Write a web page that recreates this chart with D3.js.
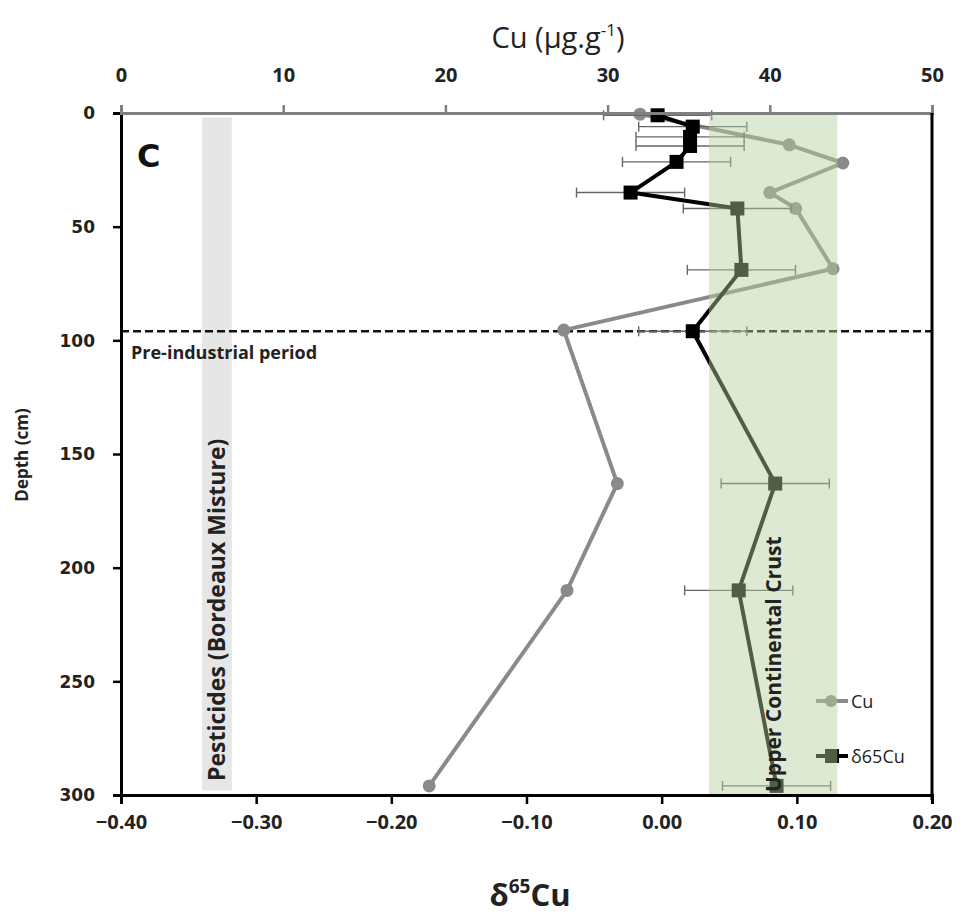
<!DOCTYPE html>
<html>
<head>
<meta charset="utf-8">
<script src="https://cdn.jsdelivr.net/npm/d3@7/dist/d3.min.js"></script>
<style>
  html, body { margin: 0; padding: 0; background: #fff; }
  svg { display: block; }
</style>
</head>
<body>
<svg id="chart" width="963" height="920"></svg>
<script>
// Depth profile: Cu concentration (top axis) and δ65Cu (bottom axis)
const deltaDepth = [1, 6, 10.5, 14.5, 21.5, 35, 42, 69, 96, 163, 210, 296];
const deltaValues = [-0.003, 0.023, 0.021, 0.021, 0.011, -0.023, 0.056, 0.059, 0.023, 0.084, 0.057, 0.085];
const deltaErr = [0.04, 0.04, 0.04, 0.04, 0.04, 0.04, 0.04, 0.04, 0.04, 0.04, 0.04, 0.04];

const cuDepth = [0.5, 14, 22, 35, 42, 68.5, 95.5, 163, 210, 296];
const cuValues = [32.0, 41.2, 44.5, 40.0, 41.6, 43.9, 27.3, 30.6, 27.5, 19.0];

const deltaTicks = [-0.40, -0.30, -0.20, -0.10, 0.00, 0.10, 0.20];
const cuTicks = [0, 10, 20, 30, 40, 50];
const depthTicks = [0, 50, 100, 150, 200, 250, 300];

const preIndustrialDepth = 96;
const pesticideRange = [-0.34, -0.318];
const crustRange = [0.035, 0.13];

(function draw() {
  const svg = d3.select("#chart");
  const mLeft = 121, mRight = 932, mTop = 113, mBottom = 795;

  const x = d3.scaleLinear().domain([-0.4, 0.2]).range([mLeft, mRight]);
  const xCu = d3.scaleLinear().domain([0, 50]).range([mLeft, mRight]);
  const y = d3.scaleLinear().domain([0, 300]).range([mTop, mBottom]);

  const tickFont = "'Open Sans', sans-serif";

  // Pesticide reference band
  svg.append("rect")
    .attr("x", x(pesticideRange[0])).attr("width", x(pesticideRange[1]) - x(pesticideRange[0]))
    .attr("y", y(2)).attr("height", y(298) - y(2))
    .attr("fill", "#e6e6e6");

  // Pre-industrial boundary
  svg.append("line")
    .attr("x1", mLeft).attr("x2", mRight)
    .attr("y1", y(preIndustrialDepth)).attr("y2", y(preIndustrialDepth))
    .attr("stroke", "#111").attr("stroke-width", 2.5).attr("stroke-dasharray", "8,4");

  // Cu profile
  const cuPts = cuValues.map((v, i) => [xCu(v), y(cuDepth[i])]);
  svg.append("path")
    .attr("d", d3.line()(cuPts))
    .attr("fill", "none").attr("stroke", "#8a8a8a").attr("stroke-width", 4)
    .attr("stroke-linejoin", "round");
  svg.append("g").selectAll("circle").data(cuPts).join("circle")
    .attr("cx", d => d[0]).attr("cy", d => d[1]).attr("r", 6.5)
    .attr("fill", "#8a8a8a");

  // δ65Cu error bars
  const eb = svg.append("g").attr("stroke", "#666").attr("stroke-width", 1.4);
  deltaValues.forEach((v, i) => {
    const cy = y(deltaDepth[i]);
    const x0 = x(v - deltaErr[i]), x1 = x(v + deltaErr[i]);
    eb.append("line").attr("x1", x0).attr("x2", x1).attr("y1", cy).attr("y2", cy);
    eb.append("line").attr("x1", x0).attr("x2", x0).attr("y1", cy - 5).attr("y2", cy + 5);
    eb.append("line").attr("x1", x1).attr("x2", x1).attr("y1", cy - 5).attr("y2", cy + 5);
  });

  // δ65Cu profile
  const dPts = deltaValues.map((v, i) => [x(v), y(deltaDepth[i])]);
  svg.append("path")
    .attr("d", d3.line()(dPts))
    .attr("fill", "none").attr("stroke", "#000").attr("stroke-width", 4)
    .attr("stroke-linejoin", "round");
  svg.append("g").selectAll("rect").data(dPts).join("rect")
    .attr("x", d => d[0] - 7).attr("y", d => d[1] - 7)
    .attr("width", 14).attr("height", 14).attr("fill", "#000");

  // Legend
  const lg = svg.append("g");
  lg.append("line").attr("x1", 816).attr("x2", 848).attr("y1", 701).attr("y2", 701)
    .attr("stroke", "#8a8a8a").attr("stroke-width", 4);
  lg.append("circle").attr("cx", 831).attr("cy", 701).attr("r", 6).attr("fill", "#8a8a8a");
  lg.append("line").attr("x1", 816).attr("x2", 848).attr("y1", 756).attr("y2", 756)
    .attr("stroke", "#000").attr("stroke-width", 4);
  lg.append("rect").attr("x", 825).attr("y", 749).attr("width", 14).attr("height", 14).attr("fill", "#000");
  lg.append("text").attr("x", 851).attr("y", 708).text("Cu")
    .attr("font-family", "'Open Sans', sans-serif").attr("font-size", 18).attr("fill", "#222");
  lg.append("text").attr("x", 851).attr("y", 763).text("δ65Cu")
    .attr("font-family", "'Open Sans', sans-serif").attr("font-size", 18).attr("fill", "#222");

  // Upper continental crust band (translucent, over the data)
  svg.append("rect")
    .attr("x", x(crustRange[0])).attr("width", x(crustRange[1]) - x(crustRange[0]))
    .attr("y", mTop + 2).attr("height", mBottom - mTop - 2)
    .attr("fill", "rgb(180,207,158)").attr("fill-opacity", 0.45);

  // Axes
  const yAxis = svg.append("g").attr("transform", `translate(${mLeft},0)`)
    .call(d3.axisLeft(y).tickValues(depthTicks).tickSize(8).tickFormat(d3.format("d")));
  yAxis.select(".domain").attr("stroke", "#000").attr("stroke-width", 3);
  yAxis.selectAll(".tick line").attr("stroke", "#000").attr("stroke-width", 2.5);
  yAxis.selectAll("text").attr("x", -26).attr("dy", "0.35em")
    .attr("font-family", "'DejaVu Sans', sans-serif").attr("font-weight", "bold")
    .attr("font-size", 17).attr("fill", "#222");

  const xAxis = svg.append("g").attr("transform", `translate(0,${mBottom})`)
    .call(d3.axisBottom(x).tickValues(deltaTicks).tickSize(9).tickFormat(d3.format(".2f")));
  xAxis.select(".domain").attr("stroke", "#000").attr("stroke-width", 3);
  xAxis.selectAll(".tick line").attr("stroke", "#000").attr("stroke-width", 2.5);
  xAxis.selectAll("text").attr("y", 20).attr("dy", "0.71em")
    .attr("font-family", tickFont).attr("font-weight", "bold")
    .attr("font-size", 20).attr("fill", "#222");

  const topAxis = svg.append("g").attr("transform", `translate(0,${mTop})`)
    .call(d3.axisTop(xCu).tickValues(cuTicks).tickSize(8).tickFormat(d3.format("d")));
  topAxis.select(".domain").attr("stroke", "#808080").attr("stroke-width", 3);
  topAxis.selectAll(".tick line").attr("stroke", "#808080").attr("stroke-width", 2.5);
  topAxis.selectAll("text").attr("y", -31)
    .attr("font-family", tickFont).attr("font-weight", "bold")
    .attr("font-size", 20).attr("fill", "#222");

  // Right frame
  svg.append("line").attr("x1", mRight).attr("x2", mRight).attr("y1", mTop).attr("y2", mBottom + 5)
    .attr("stroke", "#000").attr("stroke-width", 3);

  // Annotations
  svg.append("text").attr("x", 137).attr("y", 167).text("C")
    .attr("font-family", "'DejaVu Sans', sans-serif").attr("font-weight", "bold")
    .attr("font-size", 32).attr("fill", "#111");

  svg.append("text").attr("x", 131).attr("y", 359).text("Pre-industrial period")
    .attr("font-family", tickFont).attr("font-weight", "bold")
    .attr("font-size", 18).attr("fill", "#222");

  svg.append("text")
    .attr("transform", `translate(${x((pesticideRange[0] + pesticideRange[1]) / 2) + 8},781) rotate(-90)`)
    .text("Pesticides (Bordeaux Misture)")
    .attr("font-family", tickFont).attr("font-weight", "bold")
    .attr("font-size", 23).attr("fill", "#222");

  svg.append("text")
    .attr("transform", `translate(781,792) rotate(-90)`)
    .text("Upper Continental Crust")
    .attr("font-family", tickFont).attr("font-weight", "bold")
    .attr("font-size", 21).attr("fill", "#222");

  // Axis titles
  svg.append("text").attr("transform", "translate(28,455) rotate(-90)")
    .attr("text-anchor", "middle").text("Depth (cm)")
    .attr("font-family", tickFont).attr("font-weight", "bold")
    .attr("font-size", 17).attr("fill", "#222");

  const tTop = svg.append("text").attr("x", 558).attr("y", 48).attr("text-anchor", "middle")
    .attr("font-family", "'Open Sans', sans-serif").attr("font-size", 29).attr("fill", "#222");
  tTop.append("tspan").text("Cu (µg.g");
  tTop.append("tspan").text("-1").attr("font-size", 17).attr("dy", -12);
  tTop.append("tspan").text(")").attr("dy", 12);

  const tBot = svg.append("text").attr("x", 530).attr("y", 906).attr("text-anchor", "middle")
    .attr("font-family", "'Open Sans', sans-serif").attr("font-weight", "bold")
    .attr("font-size", 31).attr("fill", "#222");
  tBot.append("tspan").text("δ");
  tBot.append("tspan").text("65").attr("font-size", 19).attr("dy", -13);
  tBot.append("tspan").text("Cu").attr("dy", 13);
})();
</script>
</body>
</html>
